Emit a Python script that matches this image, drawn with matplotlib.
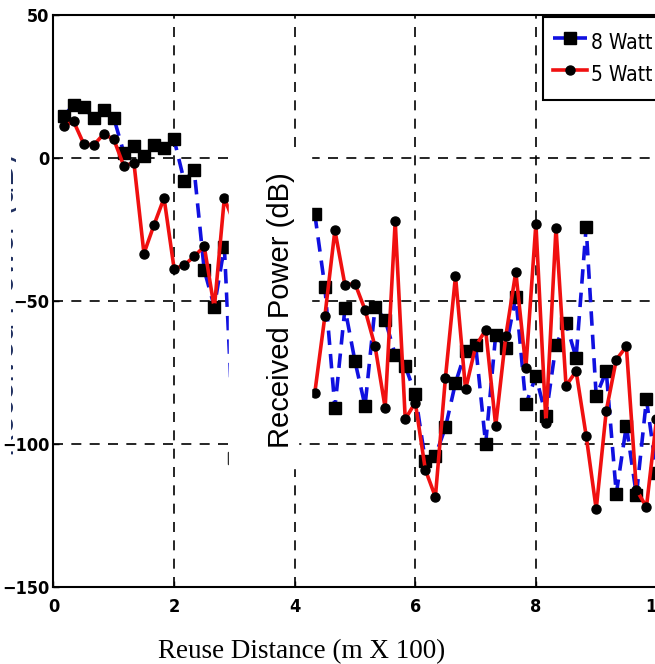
import numpy as np
import matplotlib.pyplot as plt
from matplotlib.patches import Rectangle
from matplotlib.transforms import Bbox

# reuse distance (m x 100), one sample every 1/6
distance = np.arange(1, 61) / 6.0

nan = np.nan
# received power (dB), samples 19..25 sit under the white label box
watt8 = [14.6, 18.6, 17.7, 14.0, 16.9, 14.0, 1.8, 4.2, 0.7, 4.7, 3.6, 6.5,
         -8.0, -4.3, -39.2, -52.0, -31.1, -105.0,
         nan, nan, nan, nan, nan, nan, nan,
         -19.6, -45.0, -87.3, -52.5, -71.1, -86.7, -52.0, -56.6, -68.8, -72.8,
         -82.6, -106.0, -104.1, -94.2, -78.6, -67.6, -65.3, -100.0, -61.8,
         -66.4, -48.5, -86.1, -76.3, -90.2, -65.3, -57.8, -69.9, -24.2, -83.2,
         -74.5, -117.4, -93.6, -117.9, -84.4, -110.0]
watt5 = [11.1, 12.8, 5.0, 4.5, 8.4, 6.5, -2.8, -1.6, -33.4, -23.4, -14.0,
         -38.7, -37.5, -34.4, -30.9, -52.5, -14.0, -23.0,
         nan, nan, nan, nan, nan, nan, nan,
         -82.1, -55.4, -25.3, -44.4, -43.9, -53.1, -65.9, -87.3, -22.1, -91.3,
         -85.5, -109.0, -118.5, -76.8, -41.3, -80.9, -65.9, -60.1, -93.6,
         -62.4, -39.8, -73.4, -23.0, -92.5, -24.4, -79.7, -74.5, -97.1, -122.8,
         -88.4, -70.5, -65.9, -116.0, -122.0, -91.3]

x_ticks = [0, 2, 4, 6, 8, 10]
y_ticks = [-150, -100, -50, 0, 50]
labels = ['8 Watt', '5 Watt']

W, H = 655, 664

fig = plt.figure(figsize=(W / 100, H / 100), dpi=100)
ax = fig.add_axes([53.5 / W, 1 - 587 / H, 603 / W, 572 / H])

ax.plot(distance, watt8, color='#1010e0', ls=(0, (4, 2.5)), lw=2.6,
        marker='s', ms=8, mfc='k', mec='k', label=labels[0], zorder=3)
ax.plot(distance, watt5, color='#f01010', ls='-', lw=2.6,
        marker='o', ms=6.5, mfc='k', mec='k', label=labels[1], zorder=4)

ax.set_xlim(0, 10)
ax.set_ylim(-150, 50)
ax.set_xticks(x_ticks)
ax.set_yticks(y_ticks)
ax.grid(True, color='k', ls=(0, (6, 5)), lw=1.2)
ax.tick_params(direction='in', length=4, width=1)
ax.tick_params(axis='y', pad=3)
ax.tick_params(axis='x', pad=8)
for lab in ax.get_xticklabels() + ax.get_yticklabels():
    lab.set_family('DejaVu Sans')
    lab.set_stretch('condensed')
    lab.set_fontsize(13)
    lab.set_fontweight('bold')
for s in ax.spines.values():
    s.set_linewidth(1.5)

leg = ax.legend(loc='upper left', bbox_to_anchor=(0.812, 0.9965),
                fancybox=False, framealpha=1,
                edgecolor='k', handlelength=1.65, handleheight=2.0,
                handletextpad=0.2, borderpad=0.45, labelspacing=0.0,
                borderaxespad=0,
                prop={'family': 'DejaVu Sans', 'stretch': 'condensed',
                      'size': 15})
leg.get_frame().set_linewidth(1.5)

# white box pasted over the middle of the plot, holding the y label
fig.add_artist(Rectangle((229 / W, 1 - 440 / H), 82 / W, 292 / H,
                         transform=fig.transFigure, color='white', zorder=5))
fig.add_artist(Rectangle((229 / W, 1 - 468 / H), 69 / W, 33 / H,
                         transform=fig.transFigure, color='white', zorder=5))
fig.text(281 / W, 1 - 310 / H, 'Received Power (dB)', rotation=90,
         ha='center', va='center', fontsize=21,
         family=['Liberation Sans', 'DejaVu Sans'], zorder=6)

# cut-off remains of the original y label at the left edge
rem = fig.text(6 / W, 1 - 305 / H, 'Received Power (dB)', rotation=90,
               ha='center', va='center', fontsize=23, color='#203060',
               family=['Liberation Sans', 'DejaVu Sans'], zorder=6)
rem.set_clip_box(Bbox([[11, 0], [16, H]]))

fig.text(302 / W, 1 - 652 / H, 'Reuse Distance (m X 100)', ha='center',
         va='center', fontsize=19.5,
         family=['Liberation Serif', 'DejaVu Serif'])

fig.savefig('out.png', dpi=100)
